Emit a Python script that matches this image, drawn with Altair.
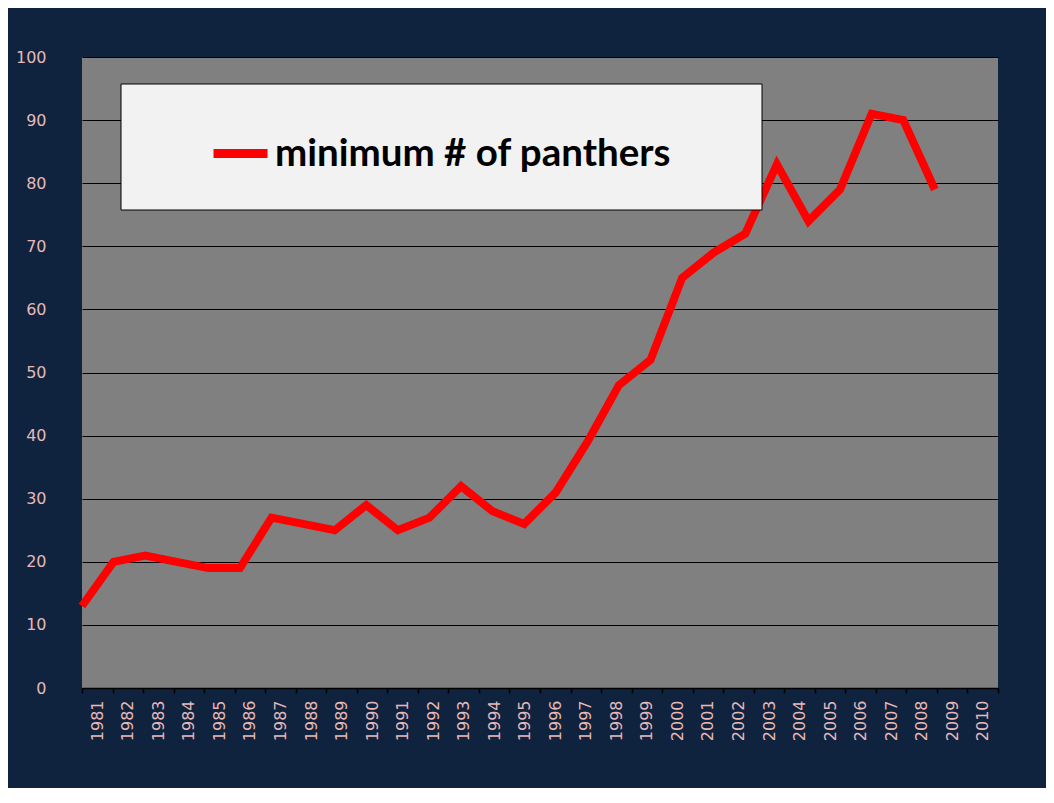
import altair as alt
import pandas as pd

years = [1981, 1982, 1983, 1984, 1985, 1986, 1987, 1988, 1989, 1990,
         1991, 1992, 1993, 1994, 1995, 1996, 1997, 1998, 1999, 2000,
         2001, 2002, 2003, 2004, 2005, 2006, 2007, 2008]
panthers = [13, 20, 21, 20, 19, 19, 27, 26, 25, 29,
            25, 27, 32, 28, 26, 31, 39, 48, 52, 65,
            69, 72, 83, 74, 79, 91, 90, 79]
axis_years = ["1981", "1982", "1983", "1984", "1985", "1986", "1987", "1988",
              "1989", "1990", "1991", "1992", "1993", "1994", "1995", "1996",
              "1997", "1998", "1999", "2000", "2001", "2002", "2003", "2004",
              "2005", "2006", "2007", "2008", "2009", "2010"]
y_ticks = [0, 10, 20, 30, 40, 50, 60, 70, 80, 90, 100]
series_name = "minimum # of panthers"

line_df = pd.DataFrame({"year": years, "value": panthers, "series": series_name})
axis_df = pd.DataFrame({"label": axis_years})
frame_df = pd.DataFrame({"frame": ["legend box"]})

PINK = "#e6b9b8"
NAVY = "#10233e"
BOX = "#f2f2f2"

axis_layer = alt.Chart(axis_df).mark_point(opacity=0).encode(
    x=alt.X(
        "label:O",
        sort=axis_years,
        title=None,
        scale=alt.Scale(type="band", paddingInner=0, paddingOuter=0),
        axis=alt.Axis(
            orient="bottom",
            labelAngle=270,
            tickBand="extent",
            ticks=True,
            tickSize=5,
            tickColor="black",
            tickWidth=1.5,
            domainColor="black",
            domainWidth=1.5,
            labelColor=PINK,
            labelFont="DejaVu Sans",
            labelFontSize=16,
            labelPadding=7,
            grid=False,
        ),
    )
)

line = alt.Chart(line_df).mark_line(strokeWidth=8).encode(
    x=alt.X("year:Q", scale=alt.Scale(domain=[1981, 2010], nice=False, zero=False), axis=None),
    y=alt.Y(
        "value:Q",
        title=None,
        scale=alt.Scale(domain=[0, 100], nice=False),
        axis=alt.Axis(
            values=y_ticks,
            grid=True,
            gridColor="black",
            gridWidth=1.2,
            domain=False,
            ticks=False,
            labelColor=PINK,
            labelFont="DejaVu Sans",
            labelFontSize=16,
            labelPadding=36,
        ),
    ),
    color=alt.Color(
        "series:N",
        scale=alt.Scale(range=["#ff0000"]),
        legend=alt.Legend(
            title=None,
            orient="none",
            legendX=39,
            legendY=27,
            padding=38,
            symbolType="stroke",
            symbolStrokeWidth=9,
            symbolSize=2916,
            symbolOffset=50,
            labelFont="Lato",
            labelFontSize=38.5,
            labelFontWeight="bold",
            labelColor="black",
            labelOffset=3,
            labelLimit=800,
        ),
    ),
)

# legend frame (white box with black border) drawn over the plot, under the legend entry
legend_frame = alt.Chart(frame_df).mark_rect(fill=BOX, stroke="black", strokeWidth=1).encode(
    x=alt.value(39), x2=alt.value(680), y=alt.value(27), y2=alt.value(153)
)

chart = alt.layer(axis_layer, line, legend_frame).resolve_scale(x="independent").properties(
    width=916,
    height=631,
    background=NAVY,
    padding={"left": 74, "top": 49, "right": 48, "bottom": 100},
    autosize=alt.AutoSizeParams(type="none"),
).configure_view(fill="#808080", strokeWidth=0)

chart.save("out.html", embed_options={"renderer": "svg", "actions": False})
